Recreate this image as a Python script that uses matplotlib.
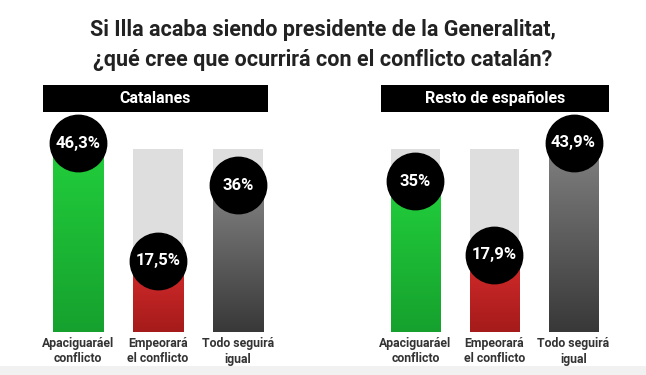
import numpy as np
import matplotlib
matplotlib.use("Agg")
import matplotlib.pyplot as plt
import matplotlib.transforms as mtransforms
from matplotlib.colors import LinearSegmentedColormap
from matplotlib.patches import Rectangle

plt.rcParams['font.family'] = ['Roboto', 'DejaVu Sans']

# --- Data ---
title = "Si Illa acaba siendo presidente de la Generalitat,\n¿qué cree que ocurrirá con el conflicto catalán?"
groups = ["Catalanes", "Resto de españoles"]
categories = ["Apaciguaráel\nconflicto", "Empeorará\nel conflicto", "Todo seguirá\nigual"]
catalanes = [46.3, 17.5, 36.0]
resto = [35.0, 17.9, 43.9]
labels_cat = ["46,3%", "17,5%", "36%"]
labels_resto = ["35%", "17,9%", "43,9%"]

# --- Style ---
W, H = 646, 375
top_colors = ["#22cf3c", "#d62b2b", "#828282"]
bot_colors = ["#16a12e", "#a51b1b", "#383838"]
bg_color = "#dedede"
panel_left = [38, 376]        # px
panel_width = [240, 237]      # px
bar_bottom, bar_top = 332, 149  # px of the grey background bars
scale_max = [44.9, 42.5]      # value at the top of the grey bars

fig = plt.figure(figsize=(W / 100, H / 100), dpi=100)
fig.patch.set_facecolor("white")

# light strip at the bottom edge
fig.patches.append(Rectangle((0, 0), 1, 9 / H, transform=fig.transFigure,
                             facecolor="#f1f1f1", edgecolor="none", zorder=-5))

fig.text(0.5, 1 - 45 / H, title, ha="center", va="center", fontsize=15.5,
         fontweight="bold", color="#222222", linespacing=1.45)

grad = np.linspace(0, 1, 256).reshape(-1, 1)


def draw_panel(i, values, texts):
    ax = fig.add_axes([panel_left[i] / W, 1 - bar_bottom / H,
                       panel_width[i] / W, (bar_bottom - bar_top) / H])
    ax.set_xlim(-0.5, 2.5)
    ax.set_ylim(0, scale_max[i])
    ax.axis("off")
    x = np.arange(len(values))
    w = 0.63
    ax.bar(x, [scale_max[i]] * len(values), w, color=bg_color, zorder=1)
    bars = ax.bar(x, values, w, color="none", zorder=2)
    for j, b in enumerate(bars):
        cmap = LinearSegmentedColormap.from_list("g", [bot_colors[j], top_colors[j]])
        im = ax.imshow(grad, extent=[x[j] - w / 2, x[j] + w / 2, 0, values[j]],
                       origin="lower", cmap=cmap, aspect="auto", zorder=2)
        im.set_clip_path(b)
    ax.set_xlim(-0.5, 2.5)
    ax.set_ylim(0, scale_max[i])
    ax.scatter(x, values, s=1650, color="black", zorder=3, clip_on=False)
    trans = mtransforms.blended_transform_factory(ax.transData, fig.transFigure)
    for j, t in enumerate(texts):
        ax.text(x[j], values[j], t, ha="center", va="center", color="white",
                fontsize=12, fontweight="bold", zorder=4)
        ax.text(x[j], 1 - 351 / H, categories[j], transform=trans, ha="center",
                va="center", fontsize=8.8, fontweight="bold", color="#333333",
                linespacing=1.3)
    return ax


draw_panel(0, catalanes, labels_cat)
draw_panel(1, resto, labels_resto)

# header boxes
boxes = [(43, 268), (381, 609)]
for (x0, x1), g in zip(boxes, groups):
    fig.patches.append(Rectangle((x0 / W, 1 - 112 / H), (x1 - x0) / W, 27 / H,
                                 transform=fig.transFigure, facecolor="black",
                                 edgecolor="none", zorder=1))
    fig.text((x0 + x1) / 2 / W, 1 - 98.5 / H, g, ha="center", va="center",
             color="white", fontsize=11.5, fontweight="bold", zorder=2)

fig.savefig("out.png", dpi=100, facecolor=fig.get_facecolor())
